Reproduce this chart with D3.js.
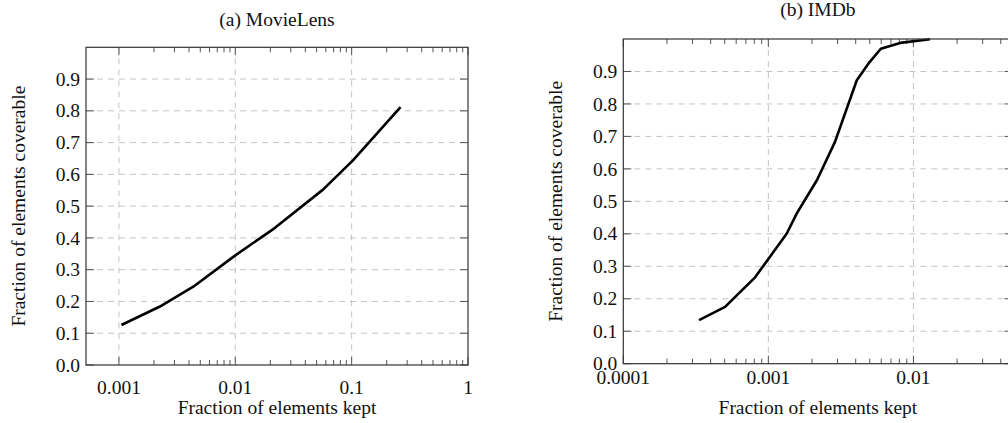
<!DOCTYPE html>
<html lang="en">
<head>
    <meta charset="UTF-8">
    <title>Fraction of elements coverable</title>
    <script src="https://d3js.org/d3.v7.min.js"></script>
    <style>
        body { margin: 0; background: #fff; }
        svg { display: block; }
        text { font-family: "Liberation Serif", Tinos, "Nimbus Roman", "DejaVu Serif", serif; fill: #111; }
        .grid line { stroke: #c4c4c4; stroke-width: 1; stroke-dasharray: 6,5; }
        .tick-mark { stroke: #555; stroke-width: 1; }
        .frame { fill: none; stroke: #333; stroke-width: 1.2; }
        .curve { fill: none; stroke: #000; stroke-width: 2.6; stroke-linejoin: round; }
    </style>
</head>
<body>
    <svg id="chart" width="1008" height="423"></svg>

    <script>
        // (a) MovieLens
        const movieKept = [0.00105, 0.00225, 0.0045, 0.01, 0.0218, 0.0567, 0.1026, 0.263];
        const movieCover = [0.126, 0.184, 0.25, 0.345, 0.431, 0.552, 0.644, 0.812];
        const movieXTicks = [0.001, 0.01, 0.1, 1];

        // (b) IMDb
        const imdbKept = [0.000333, 0.000503, 0.00081, 0.00134, 0.00157, 0.00216, 0.00288,
                          0.00407, 0.00489, 0.00596, 0.0081, 0.013];
        const imdbCover = [0.134, 0.175, 0.266, 0.401, 0.463, 0.565, 0.683,
                           0.873, 0.924, 0.970, 0.988, 0.999];
        const imdbXTicks = [0.0001, 0.001, 0.01];

        const yTicks = [0, 0.1, 0.2, 0.3, 0.4, 0.5, 0.6, 0.7, 0.8, 0.9];

        const svg = d3.select("#chart");

        function drawPanel(p) {
            const x = d3.scaleLog().domain(p.xDomain).range([p.left, p.right]);
            const y = d3.scaleLinear().domain([0, 1]).range([p.bottom, p.top]);
            const g = svg.append("g");

            // minor ticks: 2..9 inside every decade from the first labelled one
            const minor = [];
            p.xTicks.forEach(k => {
                for (let m = 2; m <= 9; m++) {
                    const v = m * k;
                    if (v < p.xDomain[1]) minor.push(v);
                }
            });

            // grid
            const grid = g.append("g").attr("class", "grid");
            grid.selectAll("line.h")
                .data(yTicks.filter(v => v > 0))
                .enter().append("line")
                .attr("x1", p.left).attr("x2", p.right)
                .attr("y1", d => y(d)).attr("y2", d => y(d));
            grid.selectAll("line.v")
                .data(p.xTicks.filter(v => v > p.xDomain[0] && v < p.xDomain[1]))
                .enter().append("line")
                .attr("x1", d => x(d)).attr("x2", d => x(d))
                .attr("y1", p.top).attr("y2", p.bottom);

            // tick marks (inward, all four sides)
            const ticks = g.append("g");
            const major = 8, small = 5;
            p.xTicks.concat(minor).forEach(v => {
                const len = p.xTicks.includes(v) ? major : small;
                ticks.append("line").attr("class", "tick-mark")
                    .attr("x1", x(v)).attr("x2", x(v))
                    .attr("y1", p.bottom).attr("y2", p.bottom - len);
                ticks.append("line").attr("class", "tick-mark")
                    .attr("x1", x(v)).attr("x2", x(v))
                    .attr("y1", p.top).attr("y2", p.top + len);
            });
            yTicks.forEach(v => {
                ticks.append("line").attr("class", "tick-mark")
                    .attr("x1", p.left).attr("x2", p.left + major)
                    .attr("y1", y(v)).attr("y2", y(v));
                ticks.append("line").attr("class", "tick-mark")
                    .attr("x1", p.right).attr("x2", p.right - major)
                    .attr("y1", y(v)).attr("y2", y(v));
            });

            // data line
            const pts = p.xs.map((v, i) => [v, p.ys[i]]);
            g.append("path")
                .datum(pts)
                .attr("class", "curve")
                .attr("d", d3.line().x(d => x(d[0])).y(d => y(d[1])));

            // frame
            g.append("rect").attr("class", "frame")
                .attr("x", p.left).attr("y", p.top)
                .attr("width", p.right - p.left).attr("height", p.bottom - p.top);

            // tick labels
            g.selectAll("text.xt")
                .data(p.xTicks)
                .enter().append("text")
                .attr("x", d => x(d))
                .attr("y", p.bottom + p.xTickGap)
                .attr("text-anchor", "middle")
                .style("font-size", "19.5px")
                .text(d => String(d));
            g.selectAll("text.yt")
                .data(yTicks)
                .enter().append("text")
                .attr("x", p.left - 6)
                .attr("y", d => y(d))
                .attr("dy", "0.34em")
                .attr("text-anchor", "end")
                .style("font-size", "19.5px")
                .text(d => d3.format(".1f")(d));

            // titles
            const cx = (p.left + p.right) / 2;
            g.append("text")
                .attr("x", cx).attr("y", p.titleY)
                .attr("text-anchor", "middle")
                .style("font-size", "19.5px")
                .text(p.title);
            g.append("text")
                .attr("x", cx).attr("y", 414)
                .attr("text-anchor", "middle")
                .style("font-size", "19.5px")
                .text("Fraction of elements kept");
            g.append("text")
                .attr("transform", `translate(${p.yLabelX},${(p.top + p.bottom) / 2}) rotate(-90)`)
                .attr("text-anchor", "middle")
                .style("font-size", "19.5px")
                .text("Fraction of elements coverable");
        }

        drawPanel({
            title: "(a) MovieLens",
            xs: movieKept, ys: movieCover, xTicks: movieXTicks,
            xDomain: [0.000521, 1],
            left: 86, right: 468, top: 47.3, bottom: 365,
            titleY: 26, xTickGap: 29, yLabelX: 25
        });

        drawPanel({
            title: "(b) IMDb",
            xs: imdbKept, ys: imdbCover, xTicks: imdbXTicks,
            xDomain: [0.0001, 0.0482],
            left: 623.3, right: 1012.5, top: 39, bottom: 363.7,
            titleY: 16, xTickGap: 20, yLabelX: 561.7
        });
    </script>
</body>
</html>
